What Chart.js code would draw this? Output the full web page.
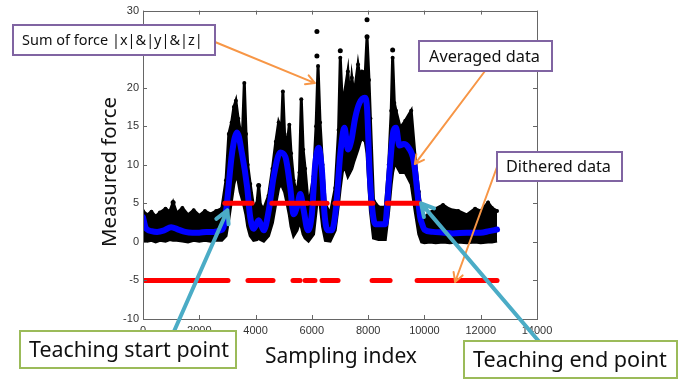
<!DOCTYPE html>
<html>
<head>
<meta charset="utf-8">
<script src="https://cdn.jsdelivr.net/npm/chart.js@4.4.1/dist/chart.umd.min.js"></script>
<style>
  html, body { margin: 0; padding: 0; background: #fff; }
</style>
</head>
<body>
<canvas id="forceChart" width="696" height="383"></canvas>
<script>
// Sum of force |x|&|y|&|z| : upper / lower edge of the black dot band
var forceIdx  = [0, 150, 300, 450, 600, 800, 950, 1070, 1200, 1400, 1600, 1800, 2000, 2200, 2400, 2600, 2800,
                 2950, 3050, 3150, 3230, 3300, 3380, 3450, 3530, 3600, 3660, 3720, 3810, 3930,
                 4050, 4110, 4170, 4290, 4460, 4600, 4720, 4820, 4920, 4970, 5030, 5120, 5200, 5260, 5350, 5470, 5560, 5625, 5690, 5760, 5880,
                 6060, 6150, 6220, 6290, 6380, 6480, 6650, 6830, 6950, 7010, 7080, 7150, 7280, 7350, 7420, 7500, 7640, 7720, 7780, 7900, 7960, 8030, 8080,
                 8190, 8370, 8610, 8730, 8820, 8870, 8930, 8990, 9140, 9320, 9530, 9670, 9800,
                 9900, 10000, 10200, 10400, 10660, 10900, 11200, 11500, 11800, 12000, 12260, 12400, 12580];
var forceHigh = [4.0, 3.5, 3.9, 3.3, 3.8, 4.3, 3.9, 5.1, 3.7, 4.4, 3.5, 4.1, 3.4, 4.0, 3.6, 4.0, 4.3,
                 8.0, 14.0, 15.5, 17.5, 18.3, 16.0, 14.5, 13.5, 20.6, 14.0, 10.0, 7.5, 4.5,
                 5.0, 7.3, 4.8, 4.3, 6.0, 9.5, 13.0, 15.5, 14.5, 19.5, 14.0, 12.5, 15.2, 11.5, 8.0, 6.0, 9.0, 18.5, 12.0, 9.5, 4.5,
                 8.5, 15.0, 22.8, 15.5, 10.0, 4.9, 3.6, 7.0, 14.5, 23.9, 18.0, 19.0, 22.1, 18.0, 21.3, 19.0, 23.0, 21.0, 22.1, 22.0, 26.6, 21.0, 16.0,
                 5.4, 4.5, 4.5, 10.0, 17.0, 23.9, 18.0, 17.0, 14.8, 15.7, 17.0, 11.0, 6.5,
                 3.8, 3.2, 3.8, 4.3, 4.8, 4.2, 4.0, 3.5, 4.3, 4.0, 5.1, 4.4, 4.0];
var forceLow  = [0.2, 0.1, 0.2, 0.0, 0.2, 0.1, 0.3, 0.2, 0.2, 0.1, 0.0, 0.2, 0.1, 0.2, 0.1, 0.2, 0.2,
                 0.8, 3.0, 5.5, 7.5, 8.5, 8.0, 6.5, 5.5, 4.5, 3.5, 2.0, 0.8, 0.2,
                 0.3, 0.5, 0.3, 0.1, 0.8, 2.5, 5.0, 7.0, 7.5, 7.0, 6.5, 5.0, 3.5, 2.0, 0.8, 1.5, 2.5, 2.0, 1.0, 0.5, 0.1,
                 1.0, 4.0, 6.5, 5.0, 2.0, 0.2, 0.1, 1.5, 5.0, 7.0, 9.0, 10.0, 8.5, 9.0, 9.5, 10.5, 12.0, 13.0, 13.5, 13.0, 11.5, 7.0, 4.0,
                 0.5, 0.3, 0.3, 4.0, 7.5, 9.0, 10.0, 10.0, 9.0, 9.0, 7.5, 4.0, 1.0,
                 0.0, -0.1, 0.0, -0.1, 0.0, -0.1, 0.0, -0.1, 0.0, -0.1, 0.0, 0.0, 0.1];
// isolated dots standing above the band
var spikeIdx = [1070, 4110, 6180, 6180, 7010, 7960, 7960, 8870];
var spikeVal = [5.1, 7.3, 27.3, 24.1, 24.8, 28.8, 26.6, 24.9];

// Averaged data
var avgIdx = [0, 100, 300, 500, 750, 1000, 1250, 1500, 1750, 2000, 2250, 2500, 2750, 2850, 2920,
              2985, 3160, 3340, 3520, 3700, 3810, 3930, 4110, 4290, 4470, 4640, 4880, 5060, 5230,
              5350, 5470, 5590, 5710, 5860, 6000, 6120, 6240, 6360, 6450, 6570, 6710, 6860, 7010,
              7160, 7280, 7400, 7540, 7690, 7880, 7960, 8050, 8140, 8250, 8610, 8670, 8790, 8900,
              8990, 9110, 9260, 9440, 9620, 9730, 9850, 9910, 10000, 10300, 10700, 11000, 11500,
              12000, 12300, 12580];
var avgVal = [3.2, 1.8, 1.4, 1.3, 1.5, 1.9, 1.6, 1.3, 1.2, 1.2, 1.3, 1.3, 1.5, 1.8, 3.0,
              5.1, 11.4, 14.2, 11.4, 7.1, 3.2, 1.7, 2.8, 1.5, 4.1, 8.4, 11.6, 11.0, 7.1,
              3.6, 4.5, 6.2, 4.1, 1.5, 3.6, 10.1, 12.2, 9.2, 3.6, 1.5, 1.5, 4.5, 11.4,
              14.8, 12.0, 13.1, 16.1, 18.0, 18.7, 17.4, 9.2, 4.5, 2.3, 2.3, 4.5, 10.5, 14.4,
              14.8, 12.5, 12.7, 12.2, 10.5, 7.1, 3.2, 2.4, 1.6, 1.3, 1.2, 1.1, 1.2,
              1.2, 1.4, 1.6];

// Dithered data: runs held at +5 / -5
var ditherStart = [0, 2910, 3730, 4580, 5330, 5470, 5760, 6000, 6360, 6820, 8140, 8670, 9740];
var ditherEnd   = [3020, 3870, 4620, 5400, 5580, 5860, 6110, 6540, 6930, 8170, 8780, 9810, 12580];
var ditherLevel = [-5, 5, -5, 5, -5, 5, -5, 5, -5, 5, -5, 5, -5];

var xTicks = [0, 2000, 4000, 6000, 8000, 10000, 12000, 14000];
var yTicks = [-10, -5, 0, 5, 10, 15, 20, 25, 30];

function pts(xs, ys) {
  return xs.map(function (x, i) { return { x: x, y: ys[i] }; });
}

// order: higher number is drawn first (further back)
var datasets = [
  {
    data: pts(forceIdx, forceLow), order: 5,
    borderColor: "#000", borderWidth: 3, pointRadius: 0, fill: false
  },
  {
    data: pts(forceIdx, forceHigh), order: 4,
    borderColor: "#000", borderWidth: 3, backgroundColor: "#000", fill: "-1",
    pointRadius: 2, pointBackgroundColor: "#000", pointBorderWidth: 0
  },
  {
    data: pts(spikeIdx, spikeVal), order: 3,
    showLine: false, pointRadius: 2.5, pointBackgroundColor: "#000", pointBorderWidth: 0
  },
  {
    data: pts(avgIdx, avgVal), order: 2,
    borderColor: "#0000ff", borderWidth: 6, pointRadius: 0, fill: false,
    cubicInterpolationMode: "monotone", borderJoinStyle: "round", borderCapStyle: "round"
  }
];
ditherStart.forEach(function (s, i) {
  datasets.push({
    data: [{ x: s, y: ditherLevel[i] }, { x: ditherEnd[i], y: ditherLevel[i] }],
    order: 1, fill: false,
    borderColor: "#ff0000", borderWidth: 5, pointRadius: 0, borderCapStyle: "round"
  });
});

var tickFont = { family: "'Liberation Sans', Arial, sans-serif", size: 11 };
var noteFamily = "'Noto Sans', sans-serif";

function fitSize(ctx, text, width) {
  ctx.font = "100px " + noteFamily;
  return 100 * width / ctx.measureText(text).width;
}

function arrow(ctx, x1, y1, x2, y2, color, lw, head) {
  var ang = Math.atan2(y2 - y1, x2 - x1);
  ctx.save();
  ctx.strokeStyle = color;
  ctx.lineWidth = lw;
  ctx.lineCap = "round";
  ctx.lineJoin = "round";
  ctx.beginPath();
  ctx.moveTo(x1, y1);
  ctx.lineTo(x2, y2);
  ctx.moveTo(x2 - head * Math.cos(ang - 0.5), y2 - head * Math.sin(ang - 0.5));
  ctx.lineTo(x2, y2);
  ctx.lineTo(x2 - head * Math.cos(ang + 0.5), y2 - head * Math.sin(ang + 0.5));
  ctx.stroke();
  ctx.restore();
}

function note(ctx, x, y, w, h, border, text, textX, textW) {
  ctx.save();
  ctx.fillStyle = "#fff";
  ctx.fillRect(x, y, w, h);
  ctx.strokeStyle = border;
  ctx.lineWidth = 2;
  ctx.strokeRect(x, y, w, h);
  var size = fitSize(ctx, text, textW);
  ctx.font = size + "px " + noteFamily;
  ctx.fillStyle = "#111";
  ctx.textBaseline = "middle";
  ctx.textAlign = "left";
  ctx.fillText(text, textX, y + h / 2 + 1);
  ctx.restore();
}

var framePlugin = {
  id: "frame",
  afterDatasetsDraw: function (chart) {
    var ctx = chart.ctx, a = chart.chartArea, xs = chart.scales.x, ys = chart.scales.y;
    ctx.save();
    ctx.strokeStyle = "#666";
    ctx.lineWidth = 1;
    ctx.strokeRect(Math.round(a.left) + 0.5, Math.round(a.top) + 0.5,
                   Math.round(a.right - a.left), Math.round(a.bottom - a.top));
    ctx.beginPath();
    xTicks.forEach(function (v) {
      var p = Math.round(xs.getPixelForValue(v)) + 0.5;
      ctx.moveTo(p, a.bottom); ctx.lineTo(p, a.bottom - 4);
      ctx.moveTo(p, a.top); ctx.lineTo(p, a.top + 4);
    });
    yTicks.forEach(function (v) {
      var p = Math.round(ys.getPixelForValue(v)) + 0.5;
      ctx.moveTo(a.left, p); ctx.lineTo(a.left + 4, p);
      ctx.moveTo(a.right, p); ctx.lineTo(a.right - 4, p);
    });
    ctx.stroke();
    ctx.restore();
  },
  afterDraw: function (chart) {
    var ctx = chart.ctx, xs = chart.scales.x, ys = chart.scales.y;
    function px(v) { return xs.getPixelForValue(v); }
    function py(v) { return ys.getPixelForValue(v); }

    // axis titles
    ctx.save();
    ctx.fillStyle = "#111";
    ctx.textAlign = "center";
    ctx.textBaseline = "middle";
    ctx.font = fitSize(ctx, "Sampling index", 152) + "px " + noteFamily;
    ctx.fillText("Sampling index", 341, 357);
    ctx.translate(110, 172);
    ctx.rotate(-Math.PI / 2);
    ctx.font = fitSize(ctx, "Measured force", 150) + "px " + noteFamily;
    ctx.fillText("Measured force", 0, 0);
    ctx.restore();

    // callout arrows
    var orange = "#f79646", teal = "#4bacc6";
    arrow(ctx, 215, 42, px(6110), py(20.6), orange, 2, 10);
    arrow(ctx, 485, 71, px(9660), py(10.1), orange, 2, 10);
    arrow(ctx, 497, 167, px(11090), py(-5.2), orange, 2, 10);
    arrow(ctx, 168, 345, px(3000), py(4.1), teal, 4, 14);
    arrow(ctx, 548, 352, px(9880), py(5.0), teal, 4, 14);

    // callout boxes
    var purple = "#8064a2", green = "#9bbb59";
    note(ctx, 13, 25, 202, 30, purple, "Sum of force |x|&|y|&|z|", 22, 181);
    note(ctx, 419, 41, 133, 30, purple, "Averaged data", 429, 111);
    note(ctx, 497, 152, 125, 29, purple, "Dithered data", 506, 105);
    note(ctx, 20, 331, 216, 37, green, "Teaching start point", 29, 200);
    note(ctx, 464, 341, 213, 37, green, "Teaching end point", 473, 194);
  }
};

new Chart(document.getElementById("forceChart"), {
  type: "line",
  data: { datasets: datasets },
  options: {
    responsive: false,
    animation: false,
    events: [],
    layout: { padding: { top: 9, right: 159, left: 0, bottom: 0 } },
    plugins: { legend: { display: false }, tooltip: { enabled: false } },
    scales: {
      x: {
        type: "linear", min: 0, max: 14000,
        afterBuildTicks: function (s) { s.ticks = xTicks.map(function (v) { return { value: v }; }); },
        afterFit: function (s) { s.height = 64; },
        grid: { display: false, drawTicks: false },
        border: { display: false },
        ticks: {
          padding: 5, font: tickFont, color: "#333", maxRotation: 0, autoSkip: false,
          callback: function (v) { return String(v); }
        }
      },
      y: {
        type: "linear", min: -10, max: 30,
        afterBuildTicks: function (s) { s.ticks = yTicks.map(function (v) { return { value: v }; }); },
        afterFit: function (s) { s.width = 143; },
        grid: { display: false, drawTicks: false },
        border: { display: false },
        ticks: {
          padding: 4, font: tickFont, color: "#333", autoSkip: false,
          callback: function (v) { return String(v); }
        }
      }
    }
  },
  plugins: [framePlugin]
});
</script>
</body>
</html>
